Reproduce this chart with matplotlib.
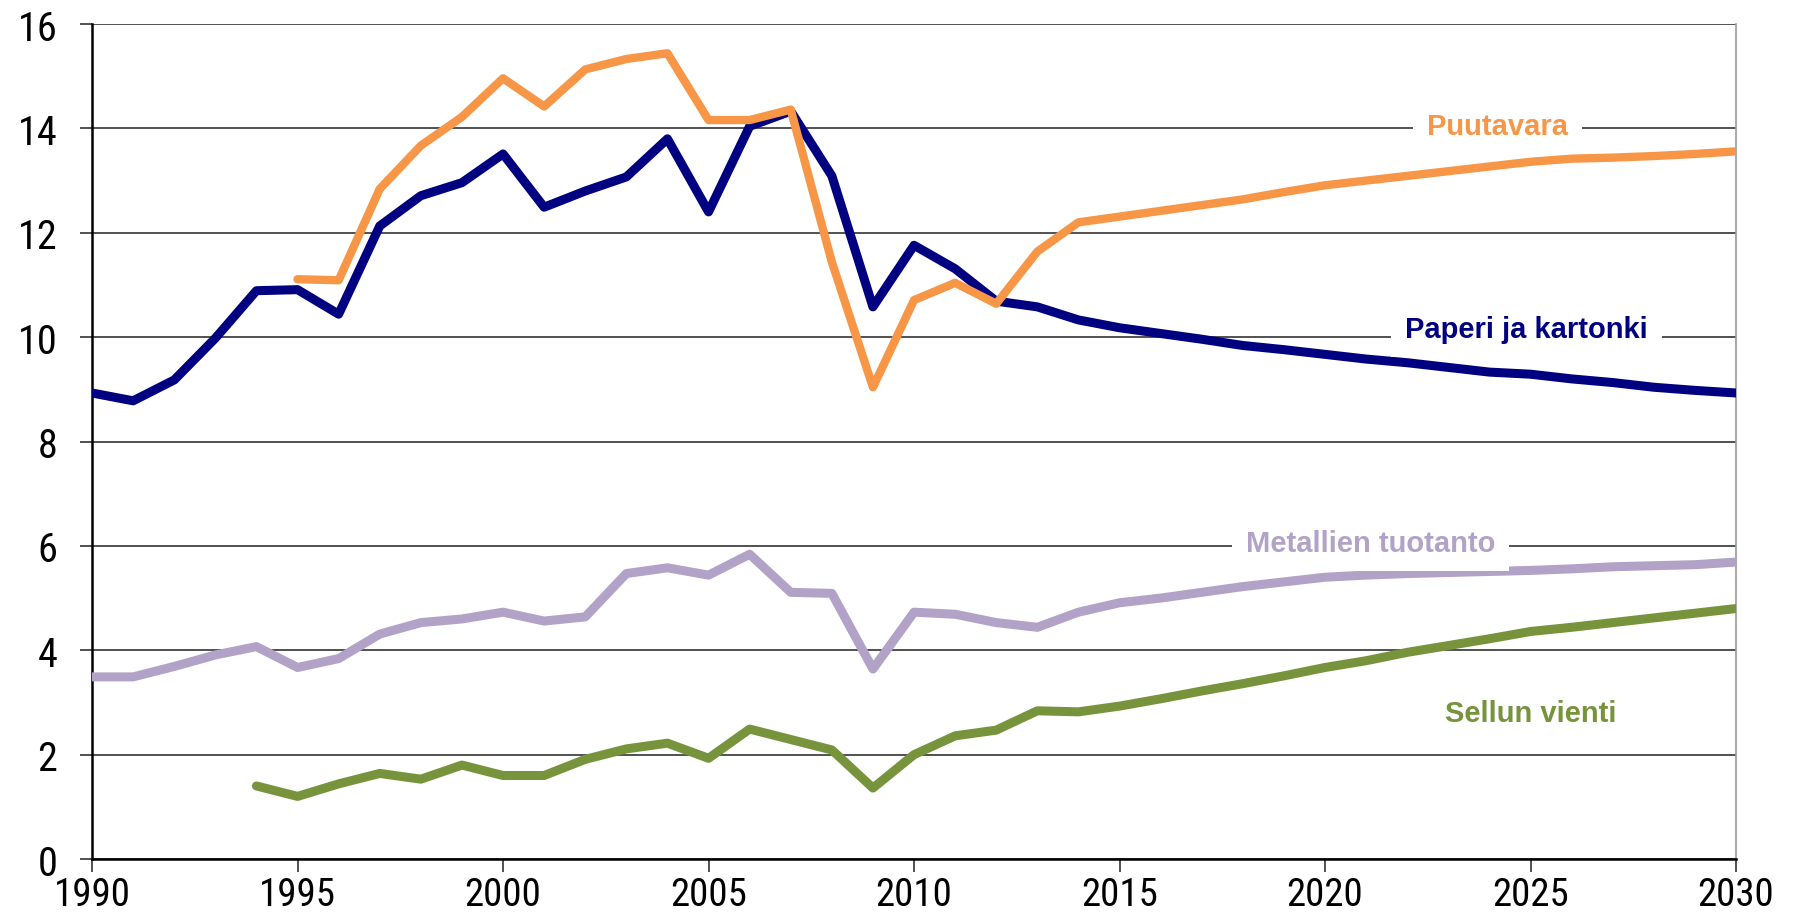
import matplotlib
import matplotlib.pyplot as plt
from matplotlib import font_manager

matplotlib.use('Agg')

years_paperi = list(range(1990, 2031))
paperi = [8.93, 8.78, 9.18, 9.98, 10.89, 10.91, 10.44, 12.13, 12.71, 12.96,
          13.51, 12.49, 12.80, 13.07, 13.80, 12.40, 14.04, 14.33, 13.09, 10.58,
          11.76, 11.31, 10.69, 10.58, 10.33, 10.18, 10.07, 9.96, 9.84, 9.76,
          9.67, 9.58, 9.51, 9.42, 9.33, 9.29, 9.20, 9.13, 9.04, 8.98, 8.93]

years_puu = list(range(1995, 2031))
puutavara = [11.11, 11.09, 12.84, 13.67, 14.22, 14.96, 14.42, 15.13, 15.33, 15.44,
             14.16, 14.16, 14.36, 11.44, 9.04, 10.71, 11.04, 10.64, 11.64, 12.20,
             12.31, 12.42, 12.53, 12.64, 12.78, 12.91, 13.00, 13.09, 13.18, 13.27,
             13.36, 13.42, 13.44, 13.47, 13.51, 13.56]

years_met = list(range(1990, 2031))
metallit = [3.49, 3.49, 3.69, 3.91, 4.07, 3.67, 3.84, 4.31, 4.53, 4.60,
            4.73, 4.56, 4.64, 5.47, 5.58, 5.44, 5.84, 5.11, 5.09, 3.64,
            4.73, 4.69, 4.53, 4.44, 4.73, 4.91, 5.00, 5.11, 5.22, 5.31,
            5.40, 5.44, 5.47, 5.49, 5.51, 5.53, 5.56, 5.60, 5.62, 5.64, 5.69]

years_sellu = list(range(1994, 2031))
sellu = [1.40, 1.20, 1.44, 1.64, 1.53, 1.80, 1.60, 1.60, 1.91, 2.11,
         2.22, 1.93, 2.49, 2.29, 2.09, 1.36, 2.00, 2.36, 2.47, 2.84,
         2.82, 2.93, 3.07, 3.22, 3.36, 3.51, 3.67, 3.80, 3.96, 4.09,
         4.22, 4.36, 4.44, 4.53, 4.62, 4.71, 4.80]

xticks = [1990, 1995, 2000, 2005, 2010, 2015, 2020, 2025, 2030]
yticks = [0, 2, 4, 6, 8, 10, 12, 14, 16]

c_paperi = '#000080'
c_puu = '#F79646'
c_met = '#B3A2C7'
c_sellu = '#77933C'

# narrow font for the tick labels, if one is installed
names = set(f.name for f in font_manager.fontManager.ttflist)
tick_font = 'DejaVu Sans'
for n in ['Liberation Sans Narrow', 'Roboto Condensed', 'Open Sans Condensed', 'DejaVu Sans Condensed']:
    if n in names:
        tick_font = n
        break

fig = plt.figure(figsize=(17.94, 9.2), dpi=100)
ax = fig.add_axes([0.0513, 0.0652, 0.9164, 0.9076])

ax.set_xlim(1990, 2030)
ax.set_ylim(0, 16)
ax.set_yticks(yticks)
ax.set_xticks(xticks)
ax.grid(axis='y', color='#333333', linewidth=1.2)
ax.set_axisbelow(True)

ax.plot(years_met, metallit, color=c_met, linewidth=6.5, solid_capstyle='round', zorder=3)
ax.plot(years_sellu, sellu, color=c_sellu, linewidth=6.5, solid_capstyle='round', zorder=3)
ax.plot(years_paperi, paperi, color=c_paperi, linewidth=6.5, solid_capstyle='round', zorder=4)
ax.plot(years_puu, puutavara, color=c_puu, linewidth=6, solid_capstyle='round', zorder=5)

box = dict(facecolor='white', edgecolor='none', pad=10)
lab = dict(fontsize=21, fontweight='bold', family='Liberation Sans',
           ha='center', va='center', bbox=box, zorder=6)
ax.text(2024.2, 14.05, 'Puutavara', color=c_puu, **lab)
ax.text(2024.9, 10.15, 'Paperi ja kartonki', color=c_paperi, **lab)
ax.text(2021.1, 6.05, 'Metallien tuotanto', color=c_met, **lab)
ax.text(2025.0, 2.8, 'Sellun vienti', color=c_sellu, **lab)

for s in ['left', 'bottom']:
    ax.spines[s].set_color('black')
    ax.spines[s].set_linewidth(1.8)
ax.spines['top'].set_visible(False)
ax.spines['right'].set_color('#999999')
ax.spines['right'].set_linewidth(1.2)

ax.tick_params(axis='both', direction='out', length=9, width=1.2, color='#333333',
               labelsize=29)
ax.tick_params(axis='x', pad=3, labelsize=28)
ax.tick_params(axis='y', pad=16)
for t in ax.get_xticklabels() + ax.get_yticklabels():
    t.set_family(tick_font)
    t.set_stretch('condensed')

fig.savefig('out.png', dpi=100)
